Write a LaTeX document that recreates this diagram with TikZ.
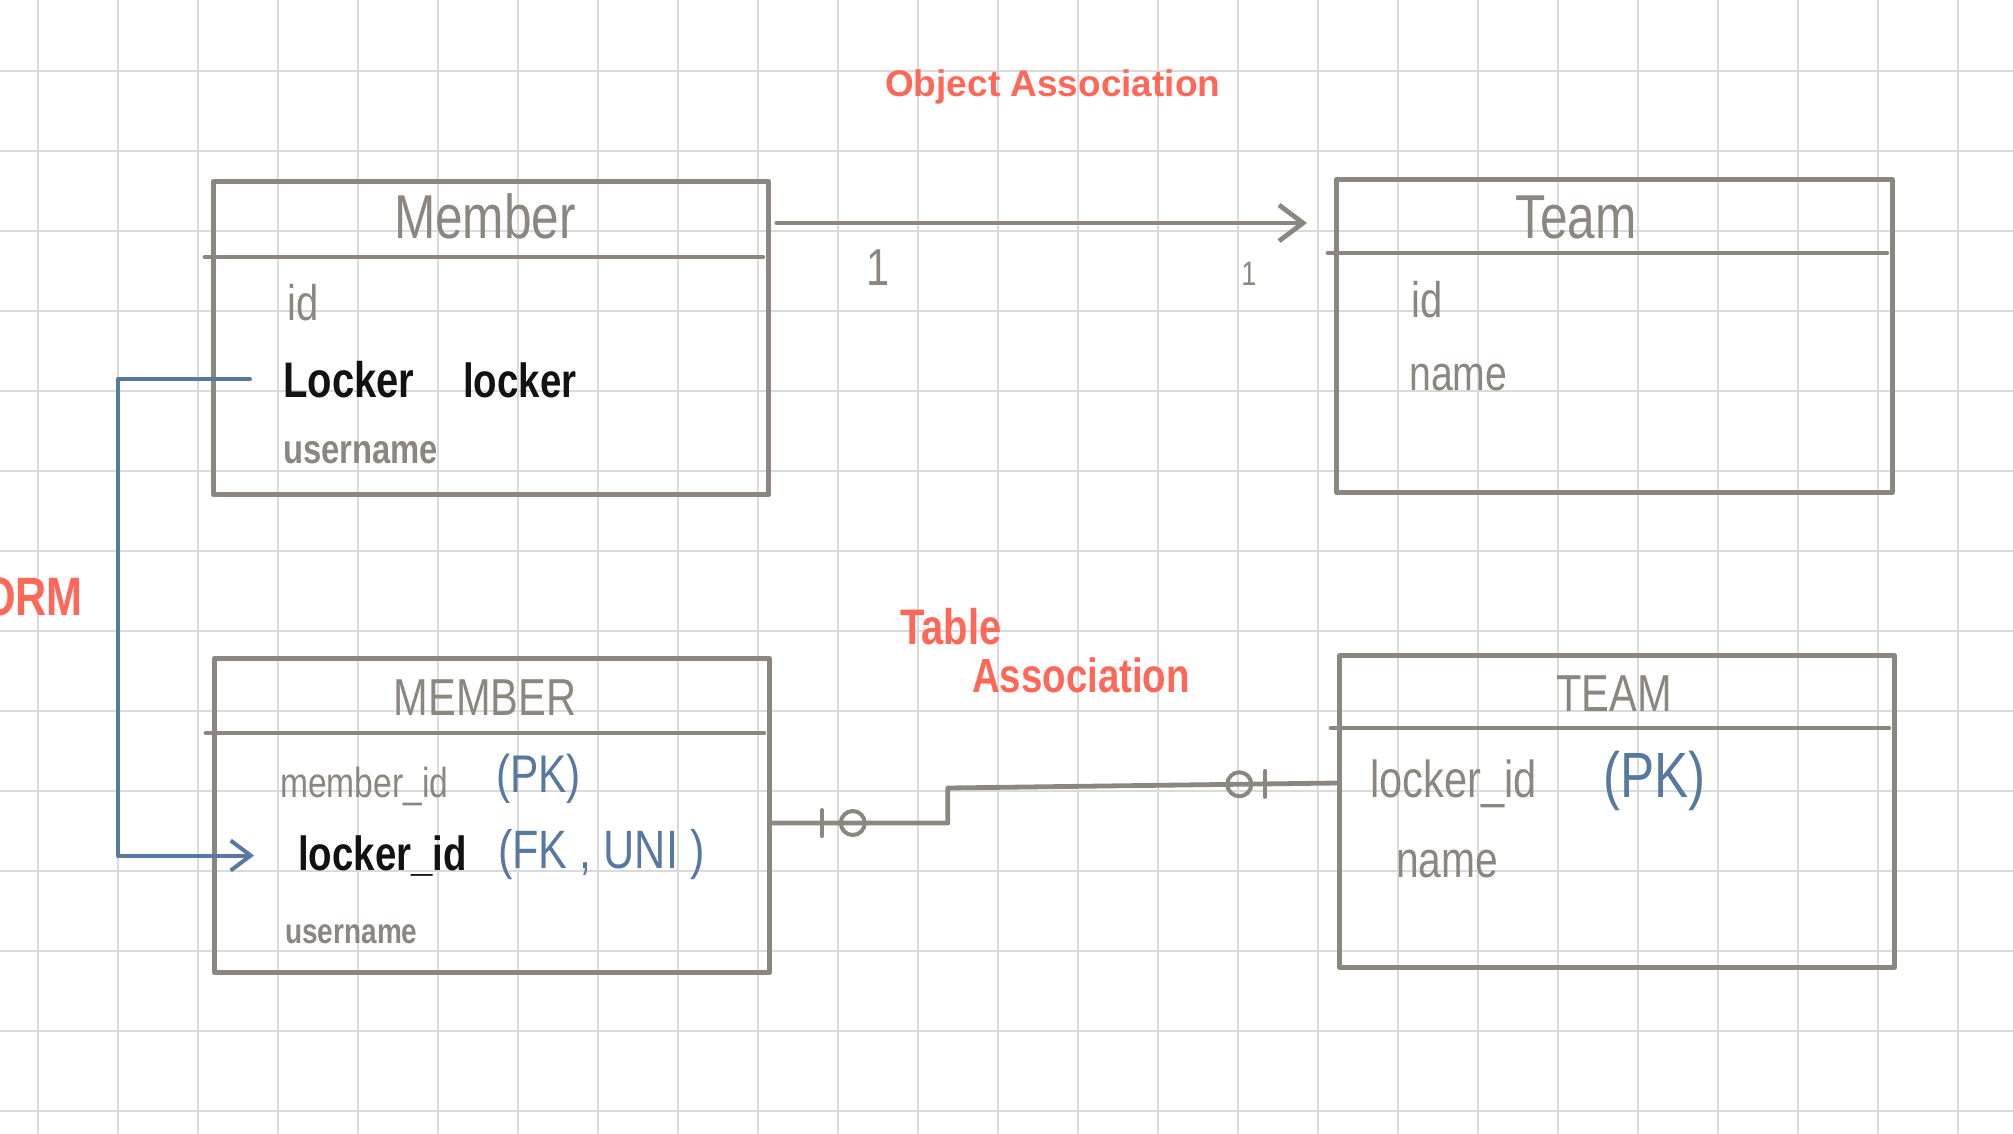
\documentclass[tikz,border=0pt]{standalone}
\usepackage{fontspec}
\usepackage{tikz}
\usetikzlibrary{arrows.meta}
\newfontfamily\handFont{Liberation Sans}[FakeStretch=0.8]
\newfontfamily\noteFont{Liberation Sans}
\definecolor{paperColor}{RGB}{218,218,218}
\definecolor{penGray}{RGB}{139,135,127}
\definecolor{penBlue}{RGB}{88,120,160}
\definecolor{penRed}{RGB}{255,104,88}
\definecolor{penBlack}{RGB}{18,18,18}
\newcommand{\penSize}[1]{\fontsize{#1}{#1}\selectfont}
\tikzstyle{sketch} = [x=1pt, y=-1pt, line cap=round, line join=round]
\tikzstyle{paperLine} = [color=paperColor, line width=2.5pt]
\tikzstyle{entityFrame} = [draw=penGray, line width=4.8pt, anchor=north west, inner sep=0pt]
\tikzstyle{entityLine} = [color=penGray, line width=4.8pt]
\tikzstyle{titleText} = [inner sep=0pt, anchor=base, text=penGray, font=\handFont]
\tikzstyle{fieldText} = [inner sep=0pt, anchor=base west, text=penGray, font=\handFont]
\tikzstyle{keyText} = [fieldText, text=penBlue]
\tikzstyle{typeText} = [fieldText, text=penBlack, font=\handFont\bfseries]
\tikzstyle{noteText} = [inner sep=0pt, anchor=base west, text=penRed, font=\handFont\bfseries]
\tikzstyle{objLink} = [color=penGray, line width=4.8pt, -{Straight Barb[length=24pt, width=36pt]}]
\tikzstyle{ormLink} = [color=penBlue, line width=4pt, -{Straight Barb[length=20pt, width=30pt]}]
\tikzstyle{relLine} = [color=penGray, line width=4.8pt]
\tikzstyle{relBar} = [draw=penGray, line width=4pt, minimum width=0pt, minimum height=26pt, inner sep=0pt]
\tikzstyle{relRing} = [draw=penGray, line width=4pt, circle, minimum size=24pt, inner sep=0pt]
\newcommand{\entityBox}[6]{
  \node[entityFrame, minimum width=#4, minimum height=#5] (#1) at (#2,#3) {};
  \draw[entityLine] ([shift={(-6,#6)}]#1.north west) -- ([shift={(-8,#6)}]#1.north east);
}
\begin{document}
\begin{tikzpicture}[sketch]
  \useasboundingbox (0,0) rectangle (2013,1133);
  % graph paper
  \foreach \col in {0,...,24} {
    \draw[paperLine] (38+80*\col,0) -- (38+80*\col,1133);
  }
  \foreach \row in {0,...,13} {
    \draw[paperLine] (0,71+80*\row) -- (2013,71+80*\row);
  }
  % objects
  \entityBox{memberBox}{211}{179}{555pt}{313pt}{78}
  \node[titleText] (memberTitle) at (485,238) {\penSize{62}Member};
  \node[fieldText] (memberId) at (287,320) {\penSize{50}id};
  \node[typeText] (lockerType) at (283,397) {\penSize{50}Locker};
  \node[typeText] (lockerName) at (463,397) {\penSize{48}locker};
  \node[fieldText, font=\handFont\bfseries] (memberName) at (283,463) {\penSize{41}username};
  \entityBox{teamBox}{1334}{177}{556pt}{313pt}{76}
  \node[titleText] (teamTitle) at (1576,238) {\penSize{62}Team};
  \node[fieldText] (teamId) at (1411,317) {\penSize{50}id};
  \node[fieldText] (teamName) at (1409,390) {\penSize{49}name};
  \draw[objLink] ([shift={(6,44)}]memberBox.north east) -- ([shift={(-27,46)}]teamBox.north west);
  \node[titleText] (memberOne) at (878,285) {\penSize{52}1};
  \node[titleText] (teamOne) at (1249,285) {\penSize{34}1};
  \node[noteText, font=\noteFont\bfseries] (objectNote) at (885,96) {\penSize{37}Object Association};
  % tables
  \entityBox{memberTable}{212}{656}{555pt}{314pt}{77}
  \node[titleText] (memberTableTitle) at (485,715) {\penSize{52}MEMBER};
  \node[fieldText] (memberTableId) at (280,797) {\penSize{42}member\_id};
  \node[keyText] (memberPk) at (496,792) {\penSize{53}(PK)};
  \node[typeText] (lockerId) at (298,870) {\penSize{48}locker\_id};
  \node[keyText] (lockerKey) at (498,868) {\penSize{54}(FK , UNI )};
  \node[fieldText, font=\handFont\bfseries] (memberTableName) at (285,943) {\penSize{35}username};
  \entityBox{teamTable}{1337}{653}{555pt}{312pt}{75}
  \node[titleText] (teamTableTitle) at (1614,711) {\penSize{52}TEAM};
  \node[fieldText] (teamTableLocker) at (1370,797) {\penSize{52}locker\_id};
  \node[keyText] (teamPk) at (1603,797) {\penSize{64}(PK)};
  \node[fieldText] (teamTableName) at (1396,877) {\penSize{51}name};
  \draw[relLine] ([shift={(0,167)}]memberTable.north east) -- ++(176,0)
      node[pos=0.284, relBar] (memberBar) {} node[pos=0.46, relRing] (memberRing) {}
    -- ++(0,-35) -- ([shift={(0,130)}]teamTable.north west)
      node[pos=0.749, relRing] (teamRing) {} node[pos=0.815, relBar] (teamBar) {};
  \node[noteText] (tableNote) at (900,644) {\penSize{50}Table};
  \node[noteText] (associationNote) at (972,692) {\penSize{48}Association};
  % mapping
  \draw[ormLink] ([xshift=-33pt]lockerType.west) -- ++(-132,0) |- ([xshift=-44pt]lockerId.west);
  \node[noteText, anchor=base east] (ormNote) at (83,615) {\penSize{54}ORM};
\end{tikzpicture}
\end{document}
